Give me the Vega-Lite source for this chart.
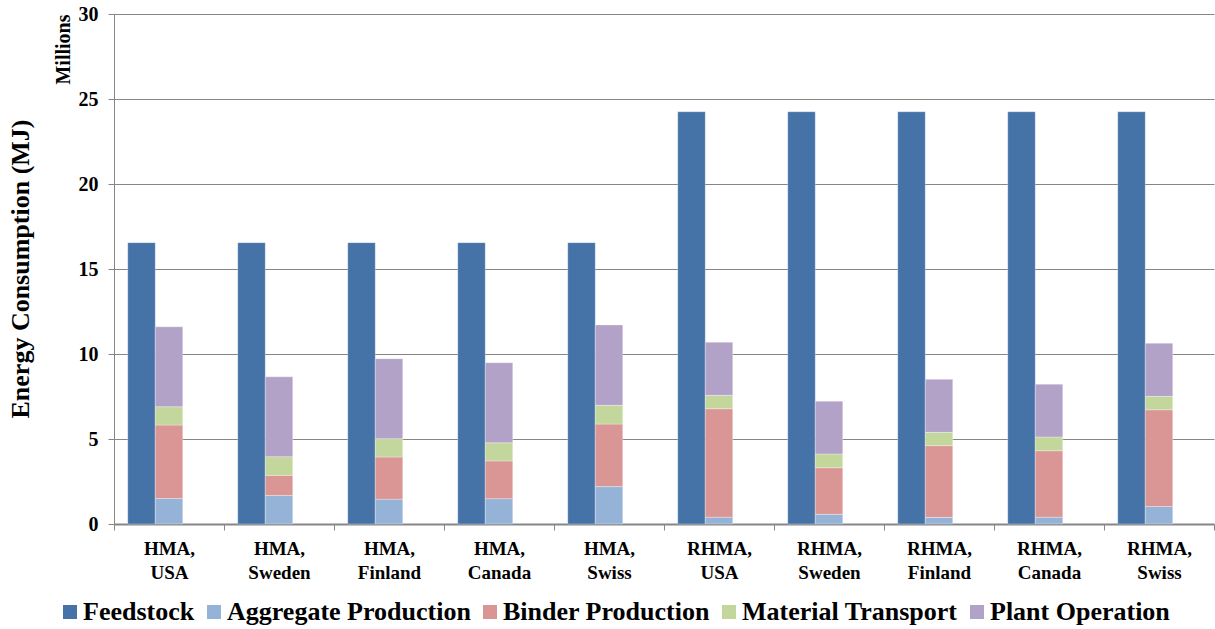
{
  "$schema": "https://vega.github.io/schema/vega-lite/v6.json",
  "width": 1100,
  "height": 510,
  "autosize": {"type": "none"},
  "padding": {"left": 114, "top": 14, "right": 1, "bottom": 105},
  "background": "white",
  "config": {"view": {"stroke": null}},
  "title": {
    "text": "Energy Consumption (MJ)",
    "orient": "left",
    "anchor": "middle",
    "frame": "group",
    "offset": 19,
    "font": "Liberation Serif",
    "fontSize": 26,
    "fontWeight": "bold",
    "color": "black"
  },
  "data": {
    "values": [
      {"group": "HMA, USA", "category": "Feedstock", "value": 16.55},
      {"group": "HMA, USA", "category": "Aggregate Production", "value": 1.50},
      {"group": "HMA, USA", "category": "Binder Production", "value": 4.32},
      {"group": "HMA, USA", "category": "Material Transport", "value": 1.08},
      {"group": "HMA, USA", "category": "Plant Operation", "value": 4.70},
      {"group": "HMA, Sweden", "category": "Feedstock", "value": 16.55},
      {"group": "HMA, Sweden", "category": "Aggregate Production", "value": 1.68},
      {"group": "HMA, Sweden", "category": "Binder Production", "value": 1.18},
      {"group": "HMA, Sweden", "category": "Material Transport", "value": 1.10},
      {"group": "HMA, Sweden", "category": "Plant Operation", "value": 4.70},
      {"group": "HMA, Finland", "category": "Feedstock", "value": 16.55},
      {"group": "HMA, Finland", "category": "Aggregate Production", "value": 1.46},
      {"group": "HMA, Finland", "category": "Binder Production", "value": 2.48},
      {"group": "HMA, Finland", "category": "Material Transport", "value": 1.08},
      {"group": "HMA, Finland", "category": "Plant Operation", "value": 4.70},
      {"group": "HMA, Canada", "category": "Feedstock", "value": 16.55},
      {"group": "HMA, Canada", "category": "Aggregate Production", "value": 1.49},
      {"group": "HMA, Canada", "category": "Binder Production", "value": 2.22},
      {"group": "HMA, Canada", "category": "Material Transport", "value": 1.07},
      {"group": "HMA, Canada", "category": "Plant Operation", "value": 4.71},
      {"group": "HMA, Swiss", "category": "Feedstock", "value": 16.55},
      {"group": "HMA, Swiss", "category": "Aggregate Production", "value": 2.20},
      {"group": "HMA, Swiss", "category": "Binder Production", "value": 3.68},
      {"group": "HMA, Swiss", "category": "Material Transport", "value": 1.10},
      {"group": "HMA, Swiss", "category": "Plant Operation", "value": 4.73},
      {"group": "RHMA, USA", "category": "Feedstock", "value": 24.25},
      {"group": "RHMA, USA", "category": "Aggregate Production", "value": 0.40},
      {"group": "RHMA, USA", "category": "Binder Production", "value": 6.38},
      {"group": "RHMA, USA", "category": "Material Transport", "value": 0.79},
      {"group": "RHMA, USA", "category": "Plant Operation", "value": 3.12},
      {"group": "RHMA, Sweden", "category": "Feedstock", "value": 24.25},
      {"group": "RHMA, Sweden", "category": "Aggregate Production", "value": 0.57},
      {"group": "RHMA, Sweden", "category": "Binder Production", "value": 2.74},
      {"group": "RHMA, Sweden", "category": "Material Transport", "value": 0.81},
      {"group": "RHMA, Sweden", "category": "Plant Operation", "value": 3.10},
      {"group": "RHMA, Finland", "category": "Feedstock", "value": 24.25},
      {"group": "RHMA, Finland", "category": "Aggregate Production", "value": 0.39},
      {"group": "RHMA, Finland", "category": "Binder Production", "value": 4.22},
      {"group": "RHMA, Finland", "category": "Material Transport", "value": 0.78},
      {"group": "RHMA, Finland", "category": "Plant Operation", "value": 3.12},
      {"group": "RHMA, Canada", "category": "Feedstock", "value": 24.25},
      {"group": "RHMA, Canada", "category": "Aggregate Production", "value": 0.40},
      {"group": "RHMA, Canada", "category": "Binder Production", "value": 3.91},
      {"group": "RHMA, Canada", "category": "Material Transport", "value": 0.81},
      {"group": "RHMA, Canada", "category": "Plant Operation", "value": 3.10},
      {"group": "RHMA, Swiss", "category": "Feedstock", "value": 24.25},
      {"group": "RHMA, Swiss", "category": "Aggregate Production", "value": 1.03},
      {"group": "RHMA, Swiss", "category": "Binder Production", "value": 5.69},
      {"group": "RHMA, Swiss", "category": "Material Transport", "value": 0.79},
      {"group": "RHMA, Swiss", "category": "Plant Operation", "value": 3.12}
    ]
  },
  "transform": [
    {"calculate": "datum.category === 'Feedstock' ? 'Feedstock' : 'Components'", "as": "slot"},
    {"calculate": "indexof(['Feedstock','Aggregate Production','Binder Production','Material Transport','Plant Operation'], datum.category)", "as": "ord"}
  ],
  "encoding": {
    "x": {
      "field": "group",
      "type": "nominal",
      "sort": null,
      "scale": {"paddingInner": 0, "paddingOuter": 0},
      "axis": {
        "title": null,
        "labelExpr": "isValid(datum.value) ? split(datum.value, ' ') : ''",
        "labelAngle": 0,
        "labelFont": "Liberation Serif",
        "labelFontSize": 19,
        "labelFontWeight": "bold",
        "labelColor": "black",
        "labelLineHeight": 24,
        "labelPadding": 9,
        "tickBand": "extent",
        "tickSize": 6,
        "tickColor": "#868686",
        "domainColor": "#868686",
        "domainWidth": 2
      }
    },
    "xOffset": {
      "field": "slot",
      "type": "nominal",
      "scale": {"domain": ["Feedstock", "Components", "Empty"], "paddingInner": 0, "paddingOuter": 0.5}
    },
    "y": {
      "field": "value",
      "type": "quantitative",
      "stack": "zero",
      "scale": {"domain": [0, 30], "nice": false},
      "axis": {
        "values": [0, 5, 10, 15, 20, 25, 30],
        "title": "Millions",
        "titleAnchor": "end",
        "titleFont": "Liberation Serif",
        "titleFontSize": 20,
        "titleFontWeight": "bold",
        "titleColor": "black",
        "titlePadding": 5,
        "labelFont": "Liberation Serif",
        "labelFontSize": 20,
        "labelFontWeight": "bold",
        "labelColor": "black",
        "labelPadding": 10,
        "tickSize": 6,
        "tickColor": "#868686",
        "domainColor": "#868686",
        "gridColor": "#868686",
        "gridWidth": 1
      }
    },
    "color": {
      "field": "category",
      "type": "nominal",
      "scale": {
        "domain": ["Feedstock", "Aggregate Production", "Binder Production", "Material Transport", "Plant Operation"],
        "range": ["#4572A7", "#95B3D7", "#D99694", "#C3D69B", "#B3A2C7"]
      },
      "legend": {
        "orient": "none",
        "legendX": -57,
        "legendY": 585,
        "padding": 0,
        "direction": "horizontal",
        "columns": 5,
        "title": null,
        "symbolType": "square",
        "symbolSize": 196,
        "symbolStrokeWidth": 0,
        "symbolOpacity": 1,
        "labelFont": "Liberation Serif",
        "labelFontSize": 26,
        "labelFontWeight": "bold",
        "labelColor": "black",
        "labelOffset": 0,
        "columnPadding": 6,
        "labelLimit": 400
      }
    },
    "order": {"field": "ord", "type": "quantitative"}
  },
  "layer": [
    {
      "transform": [{"filter": "datum.category === 'Feedstock'"}],
      "mark": {"type": "bar", "stroke": "#ffffff", "strokeWidth": 0.6, "strokeOpacity": 0.5}
    },
    {
      "transform": [{"filter": "datum.category !== 'Feedstock'"}],
      "mark": {"type": "bar", "stroke": "#ffffff", "strokeWidth": 0.6, "strokeOpacity": 0.5}
    }
  ]
}
